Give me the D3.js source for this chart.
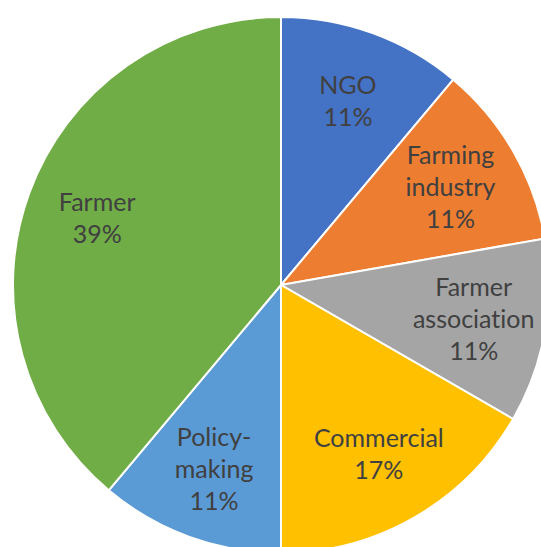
<!DOCTYPE html>
<meta charset="utf-8">
<style>
  body { margin: 0; background: #fff; }
  .slice { stroke: #fff; stroke-width: 2; }
  .label { fill: #404040; font-family: Lato, "Open Sans", sans-serif; font-size: 25px; font-variant-ligatures: none; }
</style>
<body>
<script src="https://cdn.jsdelivr.net/npm/d3@7"></script>
<script>
// chart data
var categories = ["NGO", "Farming industry", "Farmer association", "Commercial", "Policy-making", "Farmer"];
var counts = [2, 2, 2, 3, 2, 7];
var percentLabels = ["11%", "11%", "11%", "17%", "11%", "39%"];
// how each category label breaks into lines
var labelLines = [["NGO"], ["Farming", "industry"], ["Farmer", "association"], ["Commercial"], ["Policy-", "making"], ["Farmer"]];
var colors = ["#4472C4", "#ED7D31", "#A5A5A5", "#FFC000", "#5B9BD5", "#70AD47"];

var width = 541, height = 547;
var cx = 281, cy = 285, radius = 268;

var svg = d3.select("body").append("svg")
    .attr("width", width)
    .attr("height", height)
  .append("g")
    .attr("transform", "translate(" + cx + "," + cy + ")");

var data = categories.map(function(c, i) {
  return { name: c, value: counts[i], pct: percentLabels[i], lines: labelLines[i], color: colors[i] };
});

var pie = d3.pie().sort(null).value(function(d) { return d.value; });
var arc = d3.arc().innerRadius(0).outerRadius(radius);
var labelArc = d3.arc().innerRadius(radius * 0.73).outerRadius(radius * 0.73);

var arcs = pie(data);

svg.selectAll(".slice")
    .data(arcs)
  .enter().append("path")
    .attr("class", "slice")
    .attr("d", arc)
    .attr("fill", function(d) { return d.data.color; });

var lineH = 32;
var labels = svg.selectAll(".label")
    .data(arcs)
  .enter().append("text")
    .attr("class", "label")
    .attr("text-anchor", "middle")
    .attr("transform", function(d) { return "translate(" + labelArc.centroid(d) + ")"; });

labels.each(function(d) {
  var lines = d.data.lines.concat([d.data.pct]);
  var t = d3.select(this);
  var y0 = -(lines.length - 1) * lineH / 2;
  lines.forEach(function(l, i) {
    t.append("tspan")
      .attr("x", 0)
      .attr("y", y0 + i * lineH)
      .attr("dy", "0.35em")
      .text(l);
  });
});
</script>
</body>
